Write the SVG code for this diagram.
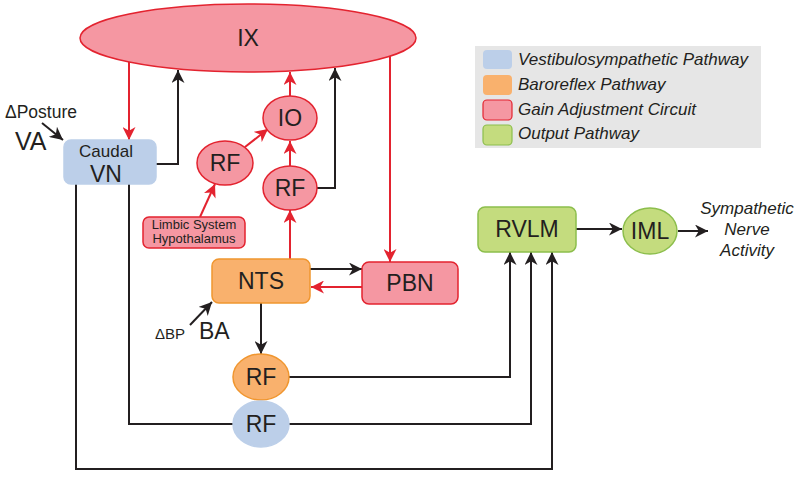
<svg xmlns="http://www.w3.org/2000/svg" width="800" height="481" viewBox="0 0 800 481">
<style>
text{font-family:"Liberation Sans",Arial,sans-serif;fill:#231f20}
.big{font-size:23px}
.lg{font-size:17px;font-style:italic}
.pink{fill:#f597a2;stroke:#e3232f;stroke-width:1.5}
.blue{fill:#bccfe9;stroke:#bccfe9;stroke-width:1.5}
.orange{fill:#f9b16d;stroke:#f0962f;stroke-width:1.5}
.green{fill:#c4dc7e;stroke:#8cbe4c;stroke-width:1.5}
.k{fill:none;stroke:#231f20;stroke-width:2}
.r{fill:none;stroke:#e3232f;stroke-width:2}
</style>
<defs>
<marker id="ak" viewBox="0 0 12 12" refX="12" refY="6" markerWidth="13" markerHeight="13" markerUnits="userSpaceOnUse" orient="auto"><path d="M0,0 L12,6 L0,12 L3.5,6 z" fill="#231f20"/></marker>
<marker id="ar" viewBox="0 0 12 12" refX="12" refY="6" markerWidth="13" markerHeight="13" markerUnits="userSpaceOnUse" orient="auto"><path d="M0,0 L12,6 L0,12 L3.5,6 z" fill="#e3232f"/></marker>
</defs>

<g id="legend">
<rect x="475" y="46" width="286" height="102" fill="#e6e6e6"/>
<rect x="483" y="50" width="29" height="19" rx="4" fill="#bccfe9"/>
<rect x="483" y="75" width="29" height="20" rx="4" fill="#f9b16d"/>
<rect x="483" y="100" width="29" height="20" rx="4" fill="#f597a2" stroke="#e3232f" stroke-width="1.2"/>
<rect x="483" y="125" width="29" height="20" rx="4" fill="#c4dc7e" stroke="#8cbe4c" stroke-width="1.2"/>
<text class="lg" x="518" y="65">Vestibulosympathetic Pathway</text>
<text class="lg" x="518" y="90">Baroreflex Pathway</text>
<text class="lg" x="518" y="115">Gain Adjustment Circuit</text>
<text class="lg" x="518" y="139">Output Pathway</text>
</g>

<g id="connectors">
<path class="r" d="M129,62 V140" marker-end="url(#ar)"/>
<path class="k" d="M156,164 H178 V70" marker-end="url(#ak)"/>
<path class="r" d="M290,96 V72" marker-end="url(#ar)"/>
<path class="k" d="M317,188 H335 V68" marker-end="url(#ak)"/>
<path class="r" d="M390,56 V262" marker-end="url(#ar)"/>
<path class="r" d="M290,166 V141" marker-end="url(#ar)"/>
<path class="r" d="M245,147 L268,129" marker-end="url(#ar)"/>
<path class="r" d="M200,217 L215,184" marker-end="url(#ar)"/>
<path class="r" d="M290,259 V210" marker-end="url(#ar)"/>
<path class="k" d="M310,269 H362" marker-end="url(#ak)"/>
<path class="r" d="M362,287 H311" marker-end="url(#ar)"/>
<path class="k" d="M261,303 V354" marker-end="url(#ak)"/>
<path class="k" d="M289,377 H510 V252" marker-end="url(#ak)"/>
<path class="k" d="M129,184 V424 H233"/>
<path class="k" d="M289,424 H531 V252" marker-end="url(#ak)"/>
<path class="k" d="M76,184 V469 H552 V252" marker-end="url(#ak)"/>
<path class="k" d="M576,229 H622" marker-end="url(#ak)"/>
<path class="k" d="M678,231 H708" marker-end="url(#ak)"/>
<path class="k" d="M42,123 L63,140" marker-end="url(#ak)"/>
<path class="k" d="M190,325 L212,302" marker-end="url(#ak)"/>
</g>

<g id="IX"><ellipse class="pink" cx="248" cy="38" rx="168" ry="34"/><text class="big" x="248" y="46" text-anchor="middle">IX</text></g>
<g id="CaudalVN"><rect class="blue" x="64" y="140" width="92" height="44" rx="7"/><text x="106" y="157" font-size="17" text-anchor="middle">Caudal</text><text class="big" x="106" y="182" text-anchor="middle">VN</text></g>
<g id="IO"><ellipse class="pink" cx="290" cy="118" rx="27" ry="22"/><text class="big" x="290" y="126" text-anchor="middle">IO</text></g>
<g id="RF1"><ellipse class="pink" cx="225" cy="163" rx="28" ry="22"/><text class="big" x="225" y="171" text-anchor="middle">RF</text></g>
<g id="RF2"><ellipse class="pink" cx="290" cy="188" rx="27" ry="22"/><text class="big" x="290" y="196" text-anchor="middle">RF</text></g>
<g id="Limbic"><rect class="pink" x="143" y="217" width="102" height="31" rx="6"/><text x="194" y="229" font-size="13" text-anchor="middle">Limbic System</text><text x="194" y="243" font-size="13" text-anchor="middle">Hypothalamus</text></g>
<g id="NTS"><rect class="orange" x="212" y="259" width="98" height="44" rx="7"/><text class="big" x="261" y="289" text-anchor="middle">NTS</text></g>
<g id="PBN"><rect class="pink" x="362" y="262" width="96" height="42" rx="7"/><text class="big" x="410" y="291" text-anchor="middle">PBN</text></g>
<g id="RF3"><ellipse class="orange" cx="261" cy="377" rx="28" ry="23"/><text class="big" x="261" y="385" text-anchor="middle">RF</text></g>
<g id="RF4"><ellipse class="blue" cx="261" cy="424" rx="28" ry="23"/><text class="big" x="261" y="432" text-anchor="middle">RF</text></g>
<g id="RVLM"><rect class="green" x="478" y="207" width="98" height="45" rx="7"/><text class="big" x="527" y="237" text-anchor="middle">RVLM</text></g>
<g id="IML"><ellipse class="green" cx="650" cy="231" rx="27" ry="23"/><text class="big" x="650" y="239" text-anchor="middle">IML</text></g>
<g id="SNA"><text x="747" y="214" font-size="17" font-style="italic" text-anchor="middle">Sympathetic</text><text x="747" y="235" font-size="17" font-style="italic" text-anchor="middle">Nerve</text><text x="747" y="256" font-size="17" font-style="italic" text-anchor="middle">Activity</text></g>
<g id="VA"><text x="5" y="118" font-size="17.5">ΔPosture</text><text x="15" y="150" font-size="25">VA</text></g>
<g id="BA"><text x="155" y="339" font-size="15">ΔBP</text><text class="big" x="199" y="339">BA</text></g>
</svg>
